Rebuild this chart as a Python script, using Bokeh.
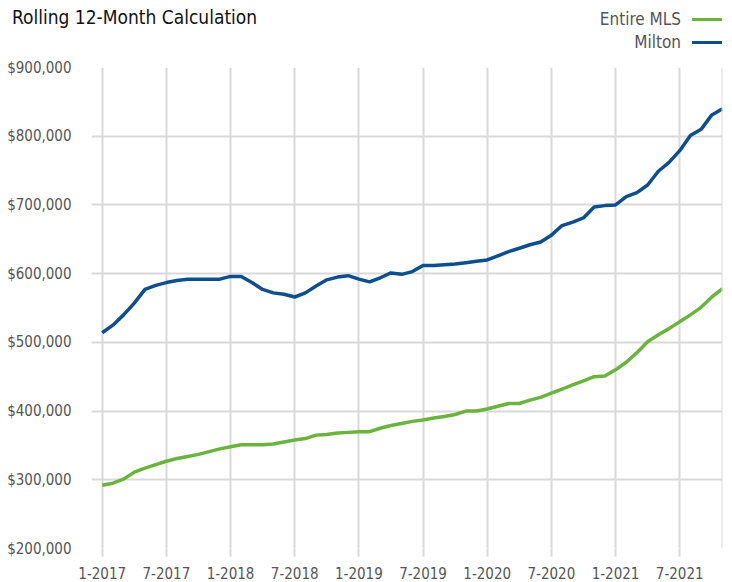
from bokeh.plotting import figure
from bokeh.layouts import column
from bokeh.models import (ColumnDataSource, FixedTicker, NumeralTickFormatter, Span, Range1d, Div)
from bokeh.embed import file_html
from bokeh.resources import INLINE

months = ["1-2017", "2-2017", "3-2017", "4-2017", "5-2017", "6-2017", "7-2017", "8-2017", "9-2017", "10-2017", "11-2017", "12-2017",
          "1-2018", "2-2018", "3-2018", "4-2018", "5-2018", "6-2018", "7-2018", "8-2018", "9-2018", "10-2018", "11-2018", "12-2018",
          "1-2019", "2-2019", "3-2019", "4-2019", "5-2019", "6-2019", "7-2019", "8-2019", "9-2019", "10-2019", "11-2019", "12-2019",
          "1-2020", "2-2020", "3-2020", "4-2020", "5-2020", "6-2020", "7-2020", "8-2020", "9-2020", "10-2020", "11-2020", "12-2020",
          "1-2021", "2-2021", "3-2021", "4-2021", "5-2021", "6-2021", "7-2021", "8-2021", "9-2021", "10-2021", "11-2021"]

milton = [514, 525, 540, 557, 577, 583, 587, 590, 592, 592, 592, 592,
          596, 596, 587, 577, 572, 570, 566, 572, 582, 591, 595, 597,
          592, 588, 594, 601, 599, 603, 612, 612, 613, 614, 616, 618,
          620, 626, 632, 637, 642, 646, 656, 670, 675, 681, 697, 699,
          700, 712, 718, 729, 749, 762, 779, 801, 810, 831, 840]

entire_mls = [292, 295, 301, 311, 317, 322, 327, 331, 334, 337, 341, 345,
              348, 351, 351, 351, 352, 355, 358, 360, 365, 366, 368, 369,
              370, 370, 375, 379, 382, 385, 387, 390, 392, 395, 400, 400,
              403, 407, 411, 411, 416, 420, 426, 432, 438, 444, 450, 451,
              460, 471, 485, 501, 511, 520, 530, 540, 551, 566, 578]

tick_labels = ["1-2017", "7-2017", "1-2018", "7-2018", "1-2019", "7-2019", "1-2020", "7-2020", "1-2021", "7-2021"]
series_names = ["Entire MLS", "Milton"]
title_text = "Rolling 12-Month Calculation"

GREEN = "#6AB43E"
BLUE = "#0C4F8C"
GRID = "#D9D9D9"
FONT = "Liberation Sans Narrow, DejaVu Sans Condensed, sans-serif"

# ---------- header (title + legend) as real HTML text ----------
HEADER_H = 57
parts = [f'<div style="position:relative;width:732px;height:{HEADER_H}px;font-family:{FONT};">',
         f'<span style="position:absolute;left:12px;top:7px;font-size:19px;line-height:20px;'
         f'color:#111111;white-space:nowrap;">{title_text}</span>']
for i, (name, col) in enumerate(zip(series_names, [GREEN, BLUE])):
    yc = 19 + 23 * i
    parts.append(f'<span style="position:absolute;right:51px;top:{yc - 9}px;font-size:17px;line-height:18px;'
                 f'color:#555555;white-space:nowrap;">{name}</span>')
    parts.append(f'<span style="position:absolute;left:692px;top:{yc - 1.5}px;width:30px;height:3px;'
                 f'background:{col};"></span>')
parts.append('</div>')
head = Div(text="".join(parts), width=732, height=HEADER_H, margin=(0, 0, 0, 0))

# ---------- main chart ----------
idx = list(range(len(months)))
src = ColumnDataSource(dict(x=idx, milton=[v * 1000 for v in milton], mls=[v * 1000 for v in entire_mls]))

p = figure(width=732, height=582 - HEADER_H, output_backend="svg", toolbar_location=None,
           x_range=Range1d(-1, len(months) - 1), y_range=Range1d(200000, 900000),
           min_border_left=91, min_border_right=10, min_border_top=10, min_border_bottom=34,
           margin=(0, 0, 0, 0))
p.outline_line_color = None

p.line("x", "mls", source=src, line_color=GREEN, line_width=3.5)
p.line("x", "milton", source=src, line_color=BLUE, line_width=3.5)

tick_pos = [months.index(t) for t in tick_labels]
p.xaxis.ticker = FixedTicker(ticks=tick_pos)
p.xaxis.major_label_overrides = {i: t for i, t in zip(tick_pos, tick_labels)}
p.xaxis.axis_line_color = None
p.xaxis.major_tick_out = 8
p.xaxis.major_tick_in = 0
p.xaxis.major_tick_line_color = GRID
p.xaxis.major_tick_line_width = 2
p.xaxis.minor_tick_line_color = None
p.xaxis.major_label_standoff = 10
p.xaxis.major_label_text_font = FONT
p.xaxis.major_label_text_font_size = "15px"
p.xaxis.major_label_text_color = "#555555"

p.yaxis.ticker = FixedTicker(ticks=[200000, 300000, 400000, 500000, 600000, 700000, 800000, 900000])
p.yaxis.formatter = NumeralTickFormatter(format="$0,0")
p.yaxis.axis_line_color = None
p.yaxis.major_tick_line_color = None
p.yaxis.minor_tick_line_color = None
p.yaxis.major_label_standoff = 14
p.yaxis.major_label_text_font = FONT
p.yaxis.major_label_text_font_size = "15px"
p.yaxis.major_label_text_color = "#555555"

p.xgrid.grid_line_color = GRID
p.xgrid.grid_line_width = 2
p.ygrid.grid_line_color = GRID
p.ygrid.grid_line_width = 2

p.add_layout(Span(location=len(months) - 1, dimension="height", line_color=GRID, line_width=2))

layout = column(head, p, spacing=0)
open("out.html", "w").write(file_html(layout, INLINE))
